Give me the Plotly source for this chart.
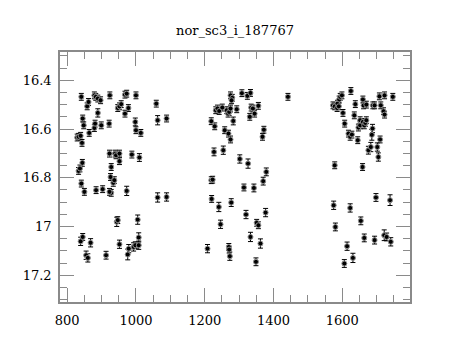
import plotly.graph_objects as go

title_text = "nor_sc3_i_187767"

hjd = [
    829, 833, 839, 843, 841, 845, 848, 858, 862, 864, 879, 883, 889, 897, 879, 881, 889, 899,
    924, 922, 947, 952, 957, 968, 973, 968, 978, 1000, 998, 1000, 1014, 1059, 1063, 1089,
    833, 837, 844, 841, 850, 884, 903, 923, 928, 926, 928, 923, 934, 937, 939, 942, 952, 952,
    988, 1010, 973, 1063, 1089,
    839, 845, 868, 855, 860, 913, 944, 947, 952, 979, 976, 993, 998, 1005, 1008, 1008,
    1219, 1229, 1232, 1237, 1242, 1251, 1264, 1268, 1271, 1275, 1280, 1278, 1275, 1283, 1293,
    1308, 1324, 1331, 1333, 1335, 1340, 1345, 1356, 1258, 1269, 1275, 1368, 1372,
    1227, 1254, 1302, 1326, 1219, 1223, 1314, 1343, 1370, 1379, 1220, 1241, 1277, 1320, 1377,
    1246, 1351, 1356,
    1208, 1270, 1271, 1273, 1333, 1362, 1349, 1442,
    1573, 1578, 1585, 1586, 1591, 1594, 1599, 1590, 1602, 1607, 1625, 1618, 1623, 1628, 1635,
    1638, 1645, 1647, 1652, 1652, 1660, 1664, 1667, 1670, 1660, 1662, 1670, 1659, 1676, 1683,
    1686, 1688, 1689, 1694, 1702, 1705, 1708, 1710, 1712, 1720, 1723, 1723, 1747, 1578,
    1575, 1580, 1623, 1654, 1698, 1739, 1614, 1606, 1631, 1664, 1694, 1722, 1729, 1741,
]

mag = [
    16.635, 16.632, 16.628, 16.657, 16.468, 16.557, 16.585, 16.507, 16.489, 16.616, 16.462, 16.468,
    16.475, 16.482, 16.596, 16.578, 16.534, 16.585,
    16.462, 16.578, 16.514, 16.507, 16.498, 16.459, 16.455, 16.537, 16.514, 16.462, 16.571, 16.605,
    16.616, 16.496, 16.564, 16.557,
    16.772, 16.762, 16.739, 16.824, 16.858, 16.851, 16.847, 16.701, 16.756, 16.797, 16.862, 16.858,
    16.821, 16.810, 16.701, 16.708, 16.701, 16.732,
    16.705, 16.717, 16.854, 16.881, 16.879,
    17.061, 17.043, 17.067, 17.118, 17.129, 17.118, 16.981, 16.974, 17.073, 17.091, 17.115, 17.084,
    17.077, 16.972, 17.045, 17.077,
    16.568, 16.589, 16.523, 16.516, 16.526, 16.512, 16.523, 16.537, 16.530, 16.462, 16.472, 16.482,
    16.516, 16.567, 16.519,
    16.453, 16.464, 16.550, 16.452, 16.512, 16.516, 16.537, 16.505, 16.605, 16.619, 16.643, 16.632,
    16.603,
    16.694, 16.687, 16.723, 16.742, 16.810, 16.808, 16.840, 16.842, 16.814, 16.776, 16.887, 16.920,
    16.902, 16.951, 16.943,
    16.991, 16.985, 16.995,
    17.091, 17.084, 17.095, 17.122, 17.043, 17.070, 17.145, 16.468,
    16.503, 16.507, 16.514, 16.496, 16.479, 16.468, 16.462, 16.507, 16.534, 16.578, 16.444, 16.619,
    16.632, 16.623, 16.544,
    16.498, 16.646, 16.594, 16.585, 16.564, 16.571, 16.585, 16.575, 16.564, 16.479, 16.503, 16.500,
    16.756, 16.687, 16.674,
    16.624, 16.598, 16.503, 16.503, 16.674, 16.715, 16.466, 16.643, 16.503, 16.527, 16.541, 16.462,
    16.468, 16.749,
    16.913, 17.002, 16.924, 16.977, 16.881, 16.892, 17.081, 17.152, 17.129, 17.047, 17.056, 17.036,
    17.043, 17.063,
]

mag_err = [
    0.014, 0.014, 0.014, 0.014, 0.014, 0.014, 0.014, 0.014, 0.014, 0.014, 0.014, 0.014,
    0.014, 0.014, 0.014, 0.014, 0.017, 0.014,
    0.014, 0.014, 0.014, 0.014, 0.014, 0.014, 0.014, 0.014, 0.014, 0.014, 0.016, 0.014,
    0.014, 0.014, 0.019, 0.014,
    0.014, 0.014, 0.014, 0.014, 0.014, 0.014, 0.014, 0.014, 0.014, 0.014, 0.014, 0.014,
    0.014, 0.014, 0.014, 0.014, 0.014, 0.014,
    0.014, 0.016, 0.019, 0.019, 0.017,
    0.017, 0.014, 0.017, 0.017, 0.017, 0.016, 0.019, 0.014, 0.017, 0.017, 0.022, 0.017,
    0.014, 0.019, 0.019, 0.017,
    0.014, 0.014, 0.014, 0.014, 0.014, 0.014, 0.014, 0.014, 0.014, 0.014, 0.014, 0.014,
    0.014, 0.016, 0.014,
    0.014, 0.014, 0.014, 0.014, 0.014, 0.014, 0.014, 0.014, 0.014, 0.014, 0.014, 0.014,
    0.014,
    0.016, 0.017, 0.017, 0.019, 0.014, 0.014, 0.014, 0.016, 0.016, 0.016, 0.014, 0.019,
    0.016, 0.017, 0.017,
    0.017, 0.014, 0.014,
    0.017, 0.014, 0.014, 0.017, 0.019, 0.019, 0.016, 0.014,
    0.014, 0.014, 0.014, 0.014, 0.014, 0.014, 0.014, 0.014, 0.014, 0.014, 0.014, 0.014,
    0.014, 0.014, 0.014,
    0.014, 0.014, 0.014, 0.014, 0.014, 0.014, 0.014, 0.014, 0.014, 0.014, 0.014, 0.014,
    0.014, 0.016, 0.019,
    0.022, 0.017, 0.014, 0.014, 0.017, 0.017, 0.014, 0.014, 0.014, 0.014, 0.014, 0.014,
    0.014, 0.014,
    0.017, 0.016, 0.017, 0.016, 0.016, 0.022, 0.017, 0.016, 0.019, 0.016, 0.016, 0.022,
    0.016, 0.017,
]

x_tick_vals = [800, 1000, 1200, 1400, 1600]
x_tick_text = ["800", "1000", "1200", "1400", "1600"]
y_tick_vals = [16.4, 16.6, 16.8, 17.0, 17.2]
y_tick_text = ["16.4", "16.6", "16.8", "17", "17.2"]

frame = "#8a8a8a"
font_family = "DejaVu Serif"

fig = go.Figure()
fig.add_trace(go.Scatter(
    x=hjd, y=mag, mode="markers",
    marker=dict(size=5, color="black", line=dict(width=1, color="#8f8f8f")),
    error_y=dict(type="data", array=mag_err, visible=True, color="black",
                 thickness=1, width=2.5),
    showlegend=False,
))

axis_common = dict(
    showgrid=False, zeroline=False, showline=True, linecolor=frame, linewidth=1.5,
    mirror="allticks", ticks="inside", ticklen=14, tickwidth=1.2, tickcolor=frame,
    tickfont=dict(family=font_family, size=13, color="black"),
)

fig.update_xaxes(
    range=[779, 1797], tickmode="array", tickvals=x_tick_vals, ticktext=x_tick_text,
    minor=dict(dtick=50, tick0=800, ticks="inside", ticklen=7, tickwidth=1.2, tickcolor=frame),
    ticklabelstandoff=6,
    **axis_common,
)
fig.update_yaxes(
    range=[17.31, 16.284], tickmode="array", tickvals=y_tick_vals, ticktext=y_tick_text,
    minor=dict(dtick=0.05, tick0=16.4, ticks="inside", ticklen=7, tickwidth=1.2, tickcolor=frame),
    ticklabelstandoff=4,
    **axis_common,
)

# page body has an 8px default margin; offsets compensate for it
fig.update_layout(
    width=460, height=340,
    margin=dict(l=52, r=58, t=44, b=46),
    paper_bgcolor="white", plot_bgcolor="white",
    title=dict(text=title_text, x=0.5, xanchor="center", xref="paper",
               y=1 - 22 / 340, yref="container", yanchor="middle",
               font=dict(family=font_family, size=13, color="black")),
)

fig.write_html("out.html")
